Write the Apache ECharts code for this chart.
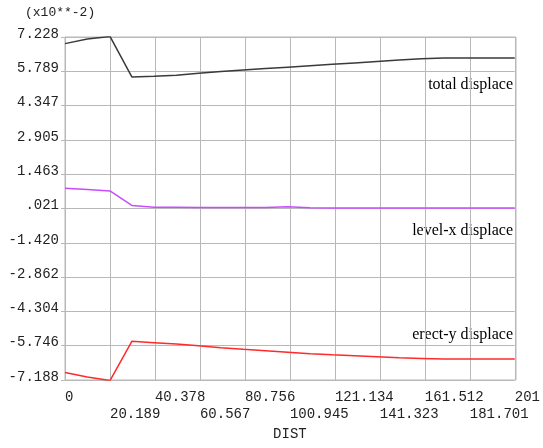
<!DOCTYPE html>
<html><head><meta charset="utf-8">
<script src="https://cdn.jsdelivr.net/npm/echarts@6/dist/echarts.min.js"></script>
<style>html,body{margin:0;padding:0;background:#fff}#c{width:543px;height:448px}</style>
</head><body><div id="c"></div>
<script>
const xTickLabels = ['0','20.189','40.378','60.567','80.756','100.945','121.134','141.323','161.512','181.701','201'];
const yTickLabels = ['-7.188','-5.746','-4.304','-2.862','-1.420','.021','1.463','2.905','4.347','5.789','7.228'];
const seriesNames = ['total displace','level-x displace','erect-y displace'];
const xVals = [0,10,20.19,30,40,50,60,70,80,90,100,110,120,130,140,150,160,170,180,190,201.89];
const totalVals = [6.93,7.12,7.23,5.53,5.56,5.60,5.68,5.76,5.82,5.88,5.94,6.00,6.06,6.12,6.18,6.24,6.29,6.33,6.33,6.33,6.33];
const levelVals = [0.85,0.80,0.74,0.13,0.05,0.05,0.04,0.04,0.04,0.04,0.07,0.03,0.02,0.02,0.02,0.02,0.02,0.02,0.02,0.02,0.02];
const erectVals = [-6.89,-7.08,-7.23,-5.58,-5.64,-5.70,-5.77,-5.85,-5.92,-5.98,-6.04,-6.10,-6.15,-6.19,-6.23,-6.27,-6.30,-6.33,-6.33,-6.33,-6.33];
const colors = ['#3a3a3a','#c84cff','#ff2a2a'];

const xInt = 20.189, yInt = 1.4416;
const chart = echarts.init(document.getElementById('c'), null, {renderer:'canvas'});
const mono = 'Liberation Mono';
const grey = '#b8b8b8';
const mk = (vals) => xVals.map((x,i)=>[x, vals[i]]);
const xLabel = (parity) => (v) => {const i=Math.round(v/xInt); return (i%2===parity) ? (xTickLabels[i]||'') : '';};
chart.setOption({
  animation:false,
  grid:{left:65, right:27, top:37, bottom:68},
  xAxis:[{type:'value', min:0, max:xInt*10, interval:xInt,
    name:'DIST', nameLocation:'middle', nameGap:47,
    nameTextStyle:{fontFamily:mono, fontSize:14, color:'#222'},
    axisLine:{show:true, lineStyle:{color:grey}},
    axisTick:{show:true, length:4, lineStyle:{color:grey}},
    splitLine:{show:true, lineStyle:{color:grey, width:1}},
    axisLabel:{fontFamily:mono, fontSize:14, color:'#222', align:'left', margin:10,
      showMinLabel:true, showMaxLabel:true, formatter:xLabel(0)}
  },{type:'value', min:0, max:xInt*10, interval:xInt, position:'bottom', offset:0,
    axisLine:{show:false}, axisTick:{show:false}, splitLine:{show:false},
    axisLabel:{fontFamily:mono, fontSize:14, color:'#222', align:'left', margin:27,
      showMinLabel:false, showMaxLabel:false, formatter:xLabel(1)}
  }],
  yAxis:{type:'value', min:-5*yInt, max:5*yInt, interval:yInt,
    axisLine:{show:true, lineStyle:{color:grey}},
    axisTick:{show:true, length:4, lineStyle:{color:grey}},
    splitLine:{show:true, lineStyle:{color:grey, width:1}},
    axisLabel:{fontFamily:mono, fontSize:14, color:'#222', margin:6, verticalAlign:'bottom', lineHeight:14, padding:[0,0,-4,0],
      showMinLabel:true, showMaxLabel:true,
      formatter:(v)=>{const i=Math.round(v/yInt)+5; return yTickLabels[i]||'';}}
  },
  graphic:[
    {type:'rect', shape:{x:65, y:37, width:451, height:343}, style:{fill:'none', stroke:grey, lineWidth:1}, silent:true, z:-1},
    {type:'text', left:25, top:6, style:{text:'(x10**-2)', font:'13px "Liberation Mono"', fill:'#222'}},
    {type:'text', right:30, top:77, style:{text:seriesNames[0], font:'16px "Liberation Serif"', fill:'#000'}},
    {type:'text', right:30, top:223, style:{text:seriesNames[1], font:'16px "Liberation Serif"', fill:'#000'}},
    {type:'text', right:30, top:327, style:{text:seriesNames[2], font:'16px "Liberation Serif"', fill:'#000'}}
  ],
  series:[
    {name:seriesNames[0], type:'line', data:mk(totalVals), showSymbol:false, lineStyle:{color:colors[0], width:1.5}, z:3},
    {name:seriesNames[1], type:'line', data:mk(levelVals), showSymbol:false, lineStyle:{color:colors[1], width:1.5}, z:3},
    {name:seriesNames[2], type:'line', data:mk(erectVals), showSymbol:false, lineStyle:{color:colors[2], width:1.5}, z:3}
  ]
});
</script></body></html>
